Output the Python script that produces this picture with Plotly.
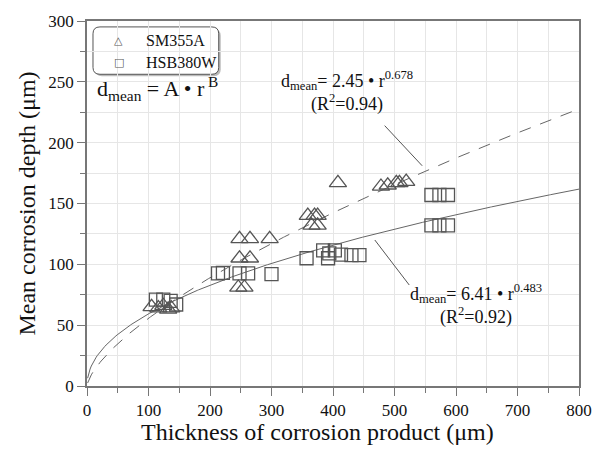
import numpy as np
import plotly.graph_objects as go

# SM355A (triangles)
sm_x = [105, 116, 124, 132, 137, 246, 256, 248, 265, 248, 265, 297,
        359, 370, 375, 365, 375, 408, 478, 489, 503, 508, 519]
sm_y = [65, 64, 66, 63, 64, 81, 81, 105, 105, 121, 121, 121,
        140, 140, 140, 132, 132, 167, 164, 165, 167, 167, 168]

# HSB380W (squares)
hsb_x = [112, 124, 136, 145, 213, 221, 248, 262, 300, 357, 384, 403,
         392, 394, 413, 430, 443, 560, 573, 587, 560, 573, 587]
hsb_y = [71, 71, 70, 67, 92.5, 93, 92.5, 92.5, 92, 105, 111.5, 111.5,
         105, 109, 108, 107.5, 107.5, 157, 157, 157, 132, 132, 132]

# power-law fits d = A * r^B, as printed on the chart
fit_sm = (2.45, 0.678)
fit_hsb = (6.41, 0.483)

FONT = "Liberation Serif"
MK = "#555555"
TXT = '#111111'

r = np.linspace(1, 800, 400)

fig = go.Figure()

fig.add_trace(go.Scatter(
  x=r, y=fit_sm[0] * r ** fit_sm[1], mode='lines',
  line=dict(color='#666666', width=1, dash='12px,10px')))
fig.add_trace(go.Scatter(
  x=r, y=fit_hsb[0] * r ** fit_hsb[1], mode='lines',
  line=dict(color='#666666', width=1)))

fig.add_trace(go.Scatter(
  x=sm_x, y=sm_y, mode='markers', name='SM355A',
  marker=dict(symbol='triangle-up-open', size=15, color=MK, line=dict(width=1.3, color=MK))))
fig.add_trace(go.Scatter(
  x=hsb_x, y=hsb_y, mode='markers', name='HSB380W',
  marker=dict(symbol='square-open', size=13, color=MK, line=dict(width=1.3, color=MK))))

# rounded legend box with a soft shadow (paper coords)
W, H = 493, 370
def px(x): return (x - 87) / W
def py(y): return (386 - y) / H

def rrect(x0, y0, x1, y1, rad):
  rx, ry = rad / W, rad / H
  return (f"M {x0+rx},{y0} L {x1-rx},{y0} Q {x1},{y0} {x1},{y0+ry} "
          f"L {x1},{y1-ry} Q {x1},{y1} {x1-rx},{y1} L {x0+rx},{y1} "
          f"Q {x0},{y1} {x0},{y1-ry} L {x0},{y0+ry} Q {x0},{y0} {x0+rx},{y0} Z")

bx0, bx1 = px(93), px(219)
by0, by1 = py(70), py(22)
fig.add_shape(type='path', xref='paper', yref='paper',
              path=rrect(bx0 + 2 / W, by0 - 2 / H, bx1 + 2 / W, by1 - 2 / H, 7),
              fillcolor='#bbbbbb', line=dict(width=0), layer='below')
fig.add_shape(type='path', xref='paper', yref='paper',
              path=rrect(bx0, by0, bx1, by1, 7),
              fillcolor='white', line=dict(color='#555555', width=1), layer='below')

# legend entries
legend_items = [('△', 'SM355A', 36), ('□', 'HSB380W', 58)]
for sym, name, yy in legend_items:
  fig.add_annotation(xref='paper', yref='paper', x=px(119), y=py(yy), showarrow=False,
                     xanchor='center', yanchor='middle', text=sym,
                     font=dict(family='DejaVu Sans', size=11, color=MK))
  fig.add_annotation(xref='paper', yref='paper', x=px(144), y=py(yy), showarrow=False,
                     xanchor='left', yanchor='middle', text=name,
                     font=dict(family=FONT, size=16, color=TXT))

fig.add_annotation(xref='paper', yref='paper', x=px(95), y=py(84),
                   xanchor='left', yanchor='middle', showarrow=False,
                   text='d<sub>mean</sub> = A • r<sup> B</sup>',
                   font=dict(family=FONT, size=22, color=TXT))

fig.add_annotation(x=423, y=242, showarrow=False, align='center',
                   text='d<sub>mean</sub>= 2.45 • r<sup>0.678</sup><br>(R<sup>2</sup>=0.94)',
                   font=dict(family=FONT, size=18, color=TXT))
fig.add_annotation(x=633, y=67, showarrow=False, align='center',
                   text='d<sub>mean</sub>= 6.41 • r<sup>0.483</sup><br>(R<sup>2</sup>=0.92)',
                   font=dict(family=FONT, size=18, color=TXT))

# leader lines
fig.add_shape(type='line', x0=484, y0=214, x1=545, y1=181, line=dict(color='#555555', width=1))
fig.add_shape(type='line', x0=468, y0=120, x1=524, y1=83, line=dict(color='#555555', width=1))

# x title sits a little left of centre in the original
fig.add_annotation(xref='paper', yref='paper', x=px(318), y=py(433), showarrow=False,
                   xanchor='center', yanchor='middle',
                   text='Thickness of corrosion product (μm)',
                   font=dict(family=FONT, size=24, color=TXT))

axis_common = dict(
  showline=True, linecolor='#777777', linewidth=1.5, mirror=True,
  ticks='outside', ticklen=8, tickcolor='#777777',
  showgrid=True, gridcolor='#e6e6e6', gridwidth=1, zeroline=False,
  tickfont=dict(family=FONT, size=17, color=TXT),
)

fig.update_layout(
  width=604, height=457,
  margin=dict(l=87, r=24, t=16, b=71),
  plot_bgcolor='white', paper_bgcolor='white',
  font=dict(family=FONT, color=TXT),
  showlegend=False,
  xaxis=dict(range=[0, 800], dtick=100,
             minor=dict(dtick=50, ticks='outside', ticklen=5, tickcolor='#777777',
                        showgrid=True, gridcolor='#e6e6e6'),
             **axis_common),
  yaxis=dict(range=[0, 300], dtick=50,
             title=dict(text='Mean corrosion depth (μm)',
                        font=dict(family=FONT, size=24), standoff=6),
             minor=dict(dtick=25, ticks='outside', ticklen=5, tickcolor='#777777',
                        showgrid=True, gridcolor='#e6e6e6'),
             **axis_common),
)

fig.write_html("out.html", config={'displayModeBar': False},
               post_script="document.body.style.margin='0';document.body.style.overflow='hidden';")
